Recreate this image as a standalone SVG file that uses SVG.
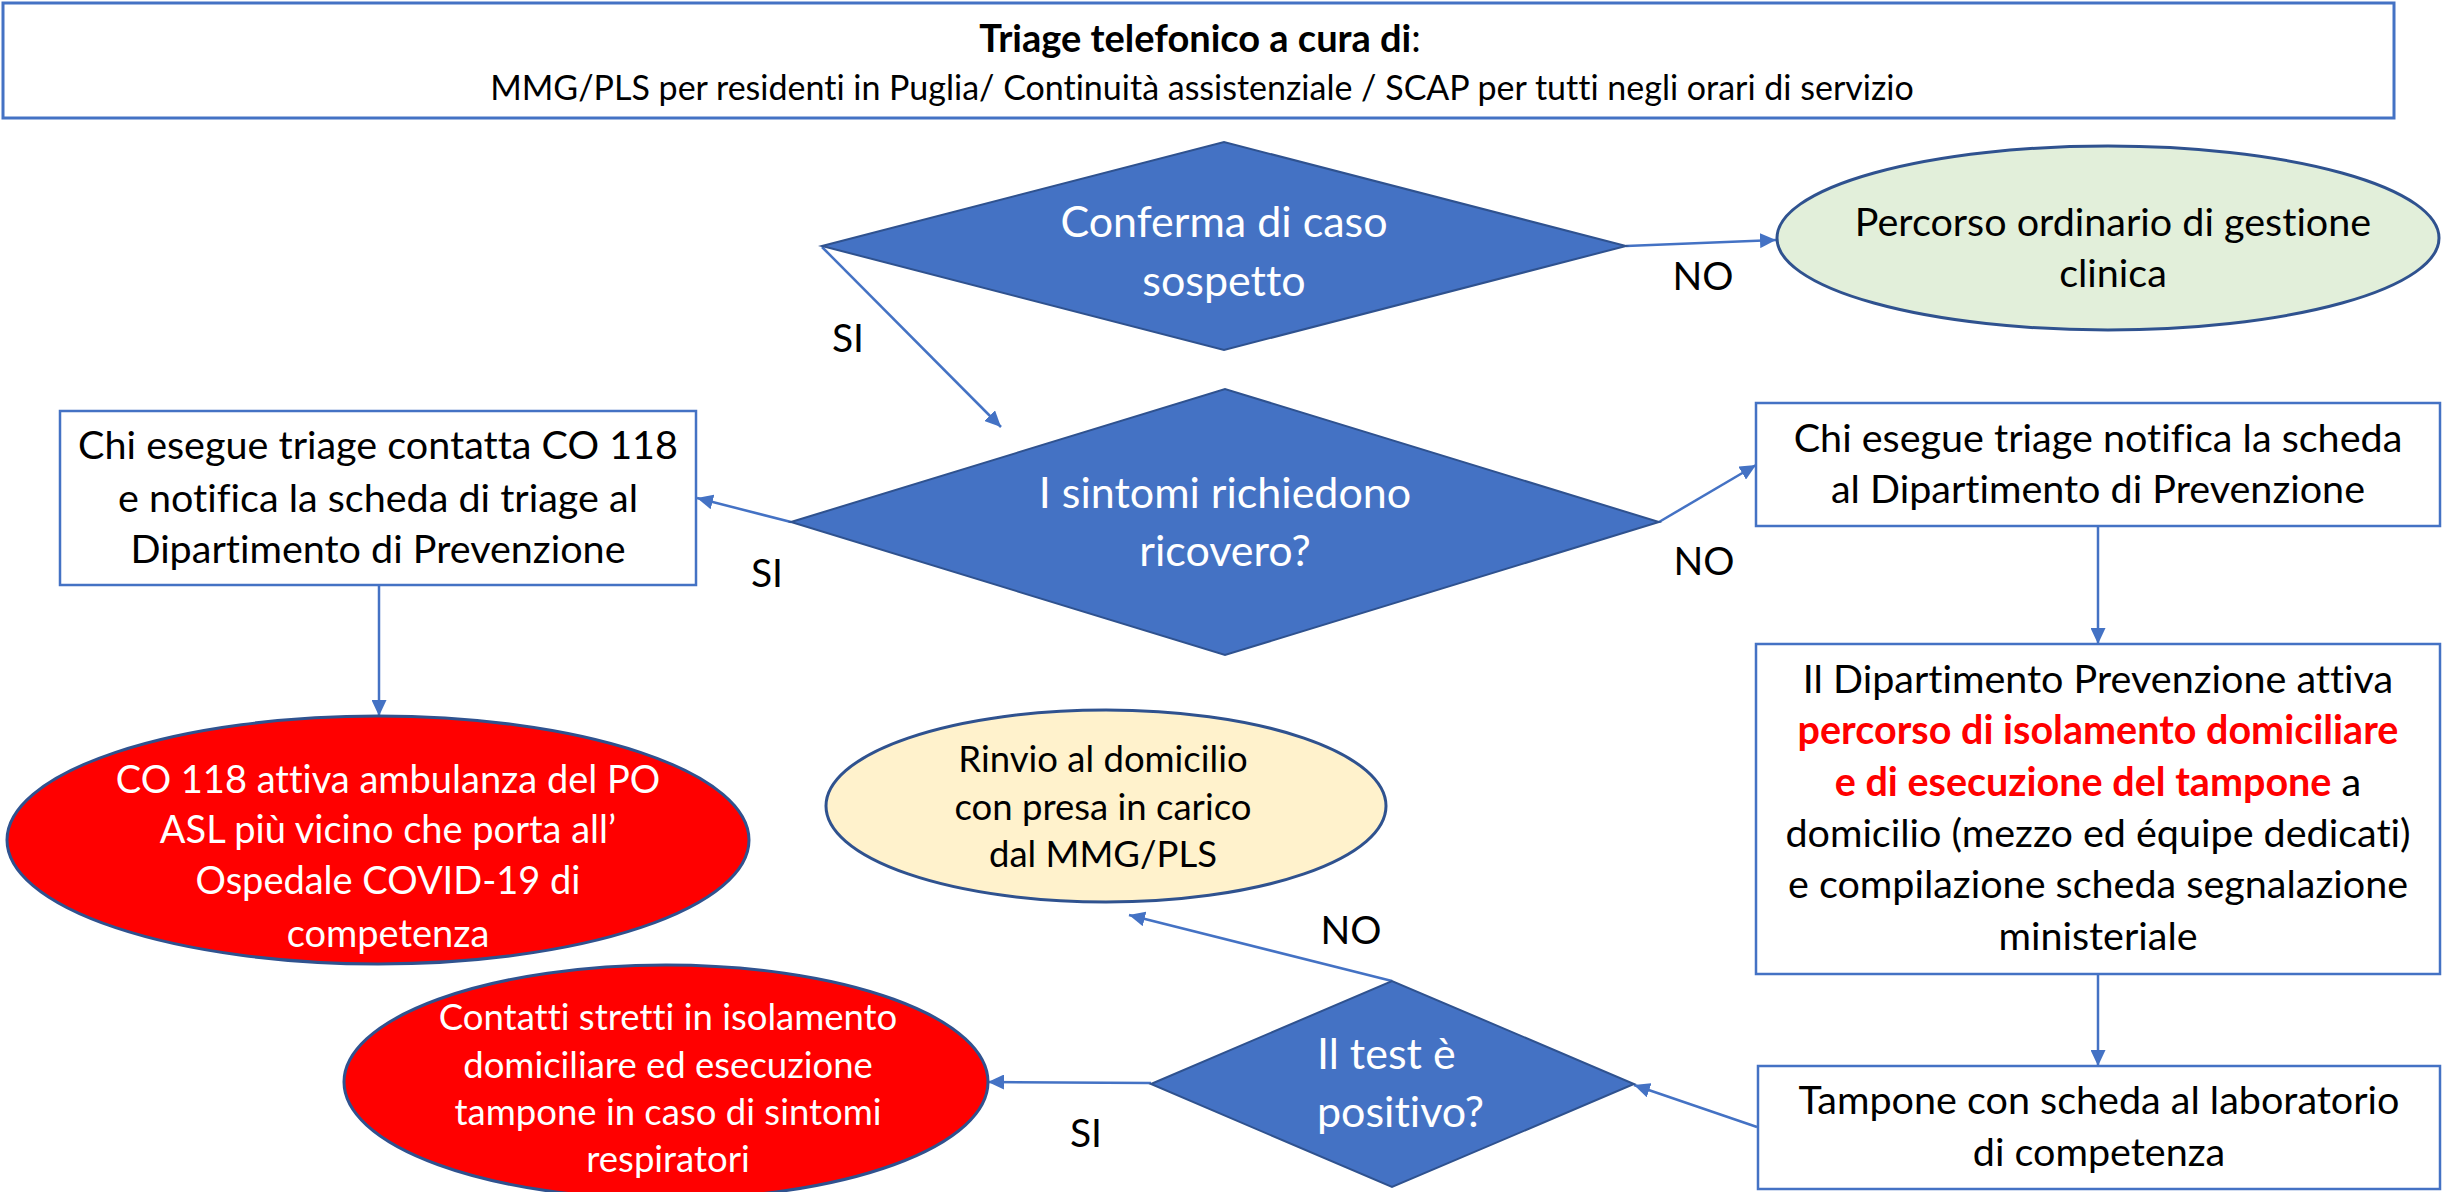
<svg xmlns="http://www.w3.org/2000/svg" width="2442" height="1192" viewBox="0 0 2442 1192">
<style>
text{font-family:Lato,"Open Sans","Liberation Sans",sans-serif;text-anchor:middle;font-variant-ligatures:none;font-feature-settings:"liga" 0,"clig" 0}
.box{fill:#fff;stroke:#4472C4;stroke-width:2.5}
.dia{fill:#4472C4;stroke:#2F528F;stroke-width:2}
.ell{stroke:#2F528F;stroke-width:3}
.red{fill:#FF0000}
.green{fill:#E2EFDA}
.yellow{fill:#FFF2CC}
.conn{stroke:#4472C4;stroke-width:2.5;fill:none;marker-end:url(#arr)}
.w{fill:#fff}
.k{fill:#000}
.dt{font-size:43px}
.nt{font-size:39.5px}
.et{font-size:38px}
.st{font-size:36.5px}
.lb{font-size:39px;fill:#000}
.rb{fill:#FF0000;font-weight:bold}
</style>
<defs>
<marker id="arr" markerUnits="userSpaceOnUse" markerWidth="17" markerHeight="15" refX="16" refY="7.5" orient="auto">
<path d="M0,0 L16,7.5 L0,15 z" fill="#4472C4"/>
</marker>
</defs>

<g id="header">
<rect class="box" x="3" y="3" width="2391" height="115" style="stroke-width:3"/>
<text x="1200" y="52" style="font-size:38px"><tspan font-weight="bold">Triage telefonico a cura di</tspan>:</text>
<text x="1202" y="100" style="font-size:34px">MMG/PLS per residenti in Puglia/ Continuità assistenziale / SCAP per tutti negli orari di servizio</text>
</g>

<g id="connectors">
<line class="conn" x1="1626" y1="246" x2="1776" y2="240"/>
<line class="conn" x1="822" y1="247" x2="1001" y2="427"/>
<line class="conn" x1="791" y1="522" x2="697" y2="498"/>
<line class="conn" x1="1659" y1="522" x2="1756" y2="465"/>
<line class="conn" x1="379" y1="585" x2="379" y2="716"/>
<line class="conn" x1="2098" y1="526" x2="2098" y2="644"/>
<line class="conn" x1="2098" y1="974" x2="2098" y2="1066"/>
<line class="conn" x1="1757" y1="1127" x2="1634" y2="1085"/>
<line class="conn" x1="1392" y1="981" x2="1129" y2="915"/>
<line class="conn" x1="1151" y1="1083" x2="988" y2="1082"/>
<text class="lb" x="1703" y="290">NO</text>
<text class="lb" x="848" y="352">SI</text>
<text class="lb" x="767" y="587">SI</text>
<text class="lb" x="1704" y="575">NO</text>
<text class="lb" x="1351" y="944">NO</text>
<text class="lb" x="1086" y="1147">SI</text>
</g>

<g id="d-conferma">
<polygon class="dia" points="822,246 1224,142 1626,246 1224,350"/>
<text class="dt w" x="1224" y="237">Conferma di caso</text>
<text class="dt w" x="1224" y="296">sospetto</text>
</g>

<g id="e-ordinario">
<ellipse class="ell green" cx="2108" cy="238" rx="331" ry="92"/>
<text class="nt k" x="2113" y="236">Percorso ordinario di gestione</text>
<text class="nt k" x="2113" y="287">clinica</text>
</g>

<g id="d-sintomi">
<polygon class="dia" points="791,522 1225,389 1659,522 1225,655"/>
<text class="dt w" x="1225" y="508">I sintomi richiedono</text>
<text class="dt w" x="1225" y="566">ricovero?</text>
</g>

<g id="b-co118">
<rect class="box" x="60" y="411" width="636" height="174"/>
<text class="nt k" x="378" y="459">Chi esegue triage contatta CO 118</text>
<text class="nt k" x="378" y="512">e notifica la scheda di triage al</text>
<text class="nt k" x="378" y="563">Dipartimento di Prevenzione</text>
</g>

<g id="b-notifica">
<rect class="box" x="1756" y="403" width="684" height="123"/>
<text class="nt k" x="2098" y="452">Chi esegue triage notifica la scheda</text>
<text class="nt k" x="2098" y="503">al Dipartimento di Prevenzione</text>
</g>

<g id="e-ambulanza">
<ellipse class="ell red" cx="378" cy="840" rx="371" ry="124"/>
<text class="et w" x="388" y="793">CO 118 attiva ambulanza del PO</text>
<text class="et w" x="388" y="843">ASL più vicino che porta all’</text>
<text class="et w" x="388" y="894">Ospedale COVID-19 di</text>
<text class="et w" x="388" y="947">competenza</text>
</g>

<g id="b-isolamento">
<rect class="box" x="1756" y="644" width="684" height="330"/>
<text class="nt k" x="2098" y="693">Il Dipartimento Prevenzione attiva</text>
<text class="nt rb" x="2098" y="744">percorso di isolamento domiciliare</text>
<text class="nt k" x="2098" y="796"><tspan class="rb">e di esecuzione del tampone</tspan> a</text>
<text class="nt k" x="2098" y="847">domicilio (mezzo ed équipe dedicati)</text>
<text class="nt k" x="2098" y="898">e compilazione scheda segnalazione</text>
<text class="nt k" x="2098" y="950">ministeriale</text>
</g>

<g id="b-tampone">
<rect class="box" x="1758" y="1066" width="682" height="123"/>
<text class="nt k" x="2099" y="1114">Tampone con scheda al laboratorio</text>
<text class="nt k" x="2099" y="1166">di competenza</text>
</g>

<g id="d-test">
<polygon class="dia" points="1151,1084 1392,981 1634,1084 1392,1187"/>
<text class="dt w" x="1317" y="1069" style="text-anchor:start">Il test è</text>
<text class="dt w" x="1317" y="1127" style="text-anchor:start">positivo?</text>
</g>

<g id="e-rinvio">
<ellipse class="ell yellow" cx="1106" cy="806" rx="280" ry="96"/>
<text class="st k" x="1103" y="772">Rinvio al domicilio</text>
<text class="st k" x="1103" y="820">con presa in carico</text>
<text class="st k" x="1103" y="867">dal MMG/PLS</text>
</g>

<g id="e-contatti">
<ellipse class="ell red" cx="666" cy="1082" rx="322" ry="117"/>
<text class="st w" x="668" y="1030">Contatti stretti in isolamento</text>
<text class="st w" x="668" y="1078">domiciliare ed esecuzione</text>
<text class="st w" x="668" y="1125">tampone in caso di sintomi</text>
<text class="st w" x="668" y="1172">respiratori</text>
</g>
</svg>
